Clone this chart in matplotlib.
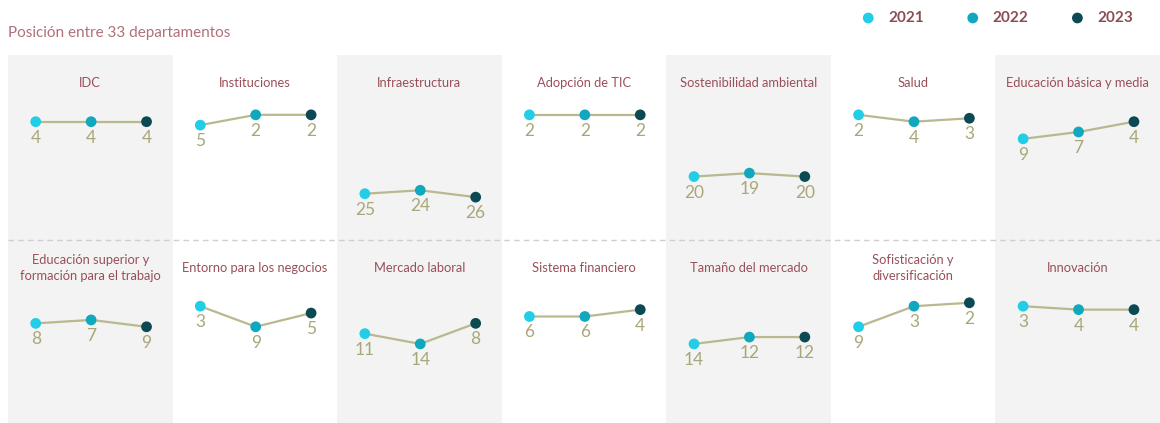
import matplotlib.pyplot as plt

plt.rcParams['font.family'] = ['Lato', 'DejaVu Sans']

# ranking data (position among 33 departments)
years = ['2021', '2022', '2023']
year_colors = ['#22cde6', '#10a8bf', '#0b4953']

top_titles = ['IDC', 'Instituciones', 'Infraestructura', 'Adopción de TIC',
              'Sostenibilidad ambiental', 'Salud', 'Educación básica y media']
top_ranks = [[4, 4, 4], [5, 2, 2], [25, 24, 26], [2, 2, 2],
             [20, 19, 20], [2, 4, 3], [9, 7, 4]]

bottom_titles = ['Educación superior y\nformación para el trabajo',
                 'Entorno para los negocios', 'Mercado laboral',
                 'Sistema financiero', 'Tamaño del mercado',
                 'Sofisticación y\ndiversificación', 'Innovación']
bottom_ranks = [[8, 7, 9], [3, 9, 5], [11, 14, 8], [6, 6, 4],
                [14, 12, 12], [9, 3, 2], [3, 4, 4]]

W, H = 1160, 423
fig = plt.figure(figsize=(W / 100, H / 100), dpi=100)

left = 8
pw = (W - left) / 7
line_color = '#b9b88e'
label_color = '#a9a779'
title_color = '#9a4f58'


def draw_row(titles, ranks, top_px, height_px, ylim):
    for i, (title, vals) in enumerate(zip(titles, ranks)):
        ax = fig.add_axes([(left + i * pw) / W, 1 - (top_px + height_px) / H,
                           pw / W, height_px / H])
        ax.set_facecolor('#f3f3f3' if i % 2 == 0 else 'white')
        for s in ax.spines.values():
            s.set_visible(False)
        ax.set_xticks([])
        ax.set_yticks([])
        ax.set_xlim(-0.5, 2.47)
        ax.set_ylim(*ylim)
        x = range(len(vals))
        ax.plot(x, vals, color=line_color, lw=1.6, zorder=2)
        for j, v in enumerate(vals):
            ax.scatter([j], [v], s=60, color=year_colors[j], zorder=3,
                       edgecolors='none', label=years[j])
            ax.annotate(str(v), (j, v), xytext=(0, -11.5), textcoords='offset points',
                        ha='center', va='center', fontsize=12.5, color=label_color)
        ax.text(0.5, 1 - 28 / height_px, title, transform=ax.transAxes,
                ha='center', va='center', fontsize=9.3, color=title_color,
                linespacing=1.3)
    return ax


ax0 = draw_row(top_titles, top_ranks, 55, 185, (38.5, -15.45))
draw_row(bottom_titles, bottom_ranks, 240, 183, (37.05, -16.3))

# dashed separator between rows
fig.add_artist(plt.Line2D([left / W, 1], [1 - 240 / H] * 2, color='#cfcfcf',
                          lw=1, ls=(0, (4, 3))))

fig.text(8 / W, 1 - 33 / H, 'Posición entre 33 departamentos', fontsize=11,
         color='#b0707a', va='center', ha='left')

handles, labels = ax0.get_legend_handles_labels()
leg = fig.legend(handles, labels, loc='center', bbox_to_anchor=(993 / W, 1 - 18 / H),
                 ncol=3, frameon=False, fontsize=11, handletextpad=0.3,
                 columnspacing=2.2)
for t in leg.get_texts():
    t.set_color('#8c4c54')
    t.set_fontweight('bold')

fig.savefig('out.png', dpi=100)
